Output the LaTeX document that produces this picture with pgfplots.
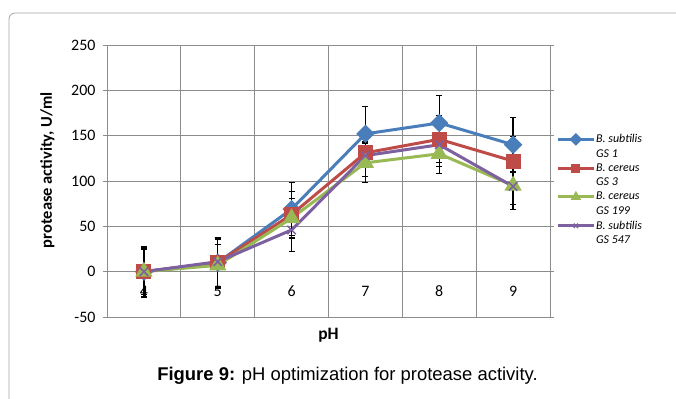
\documentclass[border=0pt]{standalone}
\usepackage{pgfplots}
\pgfplotsset{compat=1.18}
\usepackage{pgfplotstable}
\usepackage{fontspec}
\setmainfont{Carlito}
\newfontfamily\capfont{Liberation Sans}

\definecolor{sBlue}{HTML}{4A7EBB}
\definecolor{sRed}{HTML}{BE4B48}
\definecolor{sGreen}{HTML}{98B954}
\definecolor{sPurple}{HTML}{7D60A0}
\definecolor{gridgray}{HTML}{8C8C8C}

% pH, mean activity and error for each strain
\pgfplotstableread{
ph  b    be  r    re  g    ge  p    pe
4   0    28  0    27  0    25  0    28
5   10   28  10   26  7    23  11   27
6   69   29  63   25  59   22  46   24
7   152  30  131  13  120  22  128  23
8   164  30  146  26  130  22  140  24
9   140  30  122  27  95   21  94   25
}\phdata

\begin{document}
\begin{tikzpicture}
\path[use as bounding box] (0bp,0bp) rectangle (676bp,-399bp);
\draw[gridgray!80, line width=0.8bp, rounded corners=6bp]
  (9bp,-399bp) -- (9bp,-13bp) -- (690bp,-13bp);

\begin{axis}[
  at={(107bp,-317bp)}, anchor=south west,
  scale only axis, width=443bp, height=272bp,
  xmin=3.5, xmax=9.5, ymin=-50, ymax=250,
  xtick={4,...,9},
  minor xtick={4.5,5.5,6.5,7.5,8.5},
  ytick={-50,0,...,250},
  xmajorgrids=false, xminorgrids=true, ymajorgrids=true,
  grid style={gridgray, line width=0.9bp},
  minor grid style={gridgray, line width=0.9bp},
  axis line style={gridgray, line width=0.9bp},
  x tick style={draw=none},
  minor x tick style={draw=none},
  y tick style={gridgray, line width=0.9bp},
  tick align=outside, major tick length=4bp,
  ticklabel style={font=\fontsize{16}{18}\selectfont},
  /pgf/number format/assume math mode=true,
  xticklabel style={anchor=center, yshift=30bp},
  xticklabel shift=0pt,
  yticklabel style={anchor=east, xshift=-4bp},
  xlabel={\bfseries pH},
  xlabel style={font=\fontsize{17.5}{19}\selectfont,
    at={(axis description cs:0.5,0)}, anchor=center, yshift=-18bp},
  ylabel={\bfseries protease activity, U/ml},
  ylabel style={font=\fontsize{16.5}{18}\selectfont,
    at={(axis description cs:0,0.54)}, anchor=center, yshift=59.5bp},
  legend style={at={(axis description cs:1.014,0.675)}, anchor=north west,
    draw=none, fill=none, inner sep=0pt,
    font=\fontsize{12}{13}\selectfont\itshape, row sep=3.5bp,
    nodes={inner sep=0.8bp}},
  legend cell align=left,
  legend image code/.code={
    \draw[#1, mark=none, line width=2.5bp] (0bp,0bp) -- (36bp,0bp);
    \draw[#1, mark repeat=2, mark phase=2, mark size=3bp]
      plot coordinates {(0bp,0bp) (18bp,0bp) (36bp,0bp)};
  },
  error bars/error bar style={black, line width=1.3bp},
  error bars/error mark options={black, rotate=90, mark size=3bp, line width=1.2bp},
]
\addplot[sBlue, line width=3bp, mark=square*, mark size=5bp,
  mark options={rotate=45, solid},
  error bars/.cd, y dir=both, y explicit]
  table[x=ph, y=b, y error=be] {\phdata};
\addlegendentry{B. subtilis}
\addlegendimage{empty legend}\addlegendentry{GS 1}

\addplot[sRed, line width=3bp, mark=square*, mark size=6bp,
  error bars/.cd, y dir=both, y explicit]
  table[x=ph, y=r, y error=re] {\phdata};
\addlegendentry{B. cereus}
\addlegendimage{empty legend}\addlegendentry{GS 3}

\addplot[sGreen, line width=3bp, mark=triangle*, mark size=7bp,
  error bars/.cd, y dir=both, y explicit]
  table[x=ph, y=g, y error=ge] {\phdata};
\addlegendentry{B. cereus}
\addlegendimage{empty legend}\addlegendentry{GS 199}

\addplot[sPurple, line width=3bp, mark=x, mark size=6bp,
  mark options={line width=1.5bp},
  error bars/.cd, y dir=both, y explicit]
  table[x=ph, y=p, y error=pe] {\phdata};
\addlegendentry{B. subtilis}
\addlegendimage{empty legend}\addlegendentry{GS 547}
\end{axis}

\node[font=\capfont\fontsize{18.5}{20}\selectfont] at (347.5bp,-376bp)
  {\textbf{Figure 9:} pH optimization for protease activity.};
\end{tikzpicture}
\end{document}
